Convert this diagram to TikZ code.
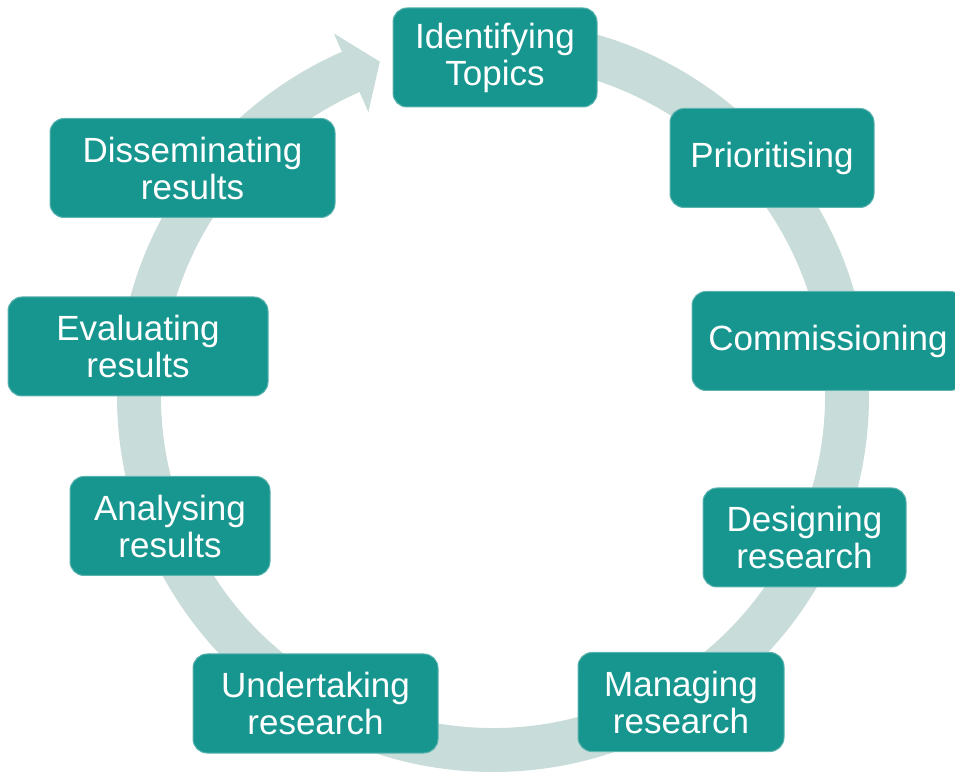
\documentclass[tikz,border=0pt]{standalone}
\usepackage{fontspec}
\setmainfont{Liberation Sans}
\usepackage{xcolor}
\usepackage{tikz}
\definecolor{CycTeal}{HTML}{17968F}
\definecolor{CycEdge}{HTML}{5BB3AE}
\definecolor{CycRing}{HTML}{C8DCDA}

\begin{document}
\begin{tikzpicture}[x=1pt,y=1pt,
  stage/.style={fill=CycTeal,draw=CycEdge,line width=1pt,rounded corners=14pt,
    text=white,align=center,minimum height=99pt,inner sep=0pt,
    font=\fontsize{35}{37}\selectfont}]
\path[use as bounding box] (0,0) rectangle (955,776);
\begin{scope}[shift={(493,380)}]
\fill[CycRing] (90:376) arc[start angle=90,end angle=-246.3,radius=376]
  -- (-246.3:396) -- (-251.3:353) -- (-246.3:310) -- (-246.3:332)
  arc[start angle=-246.3,end angle=90,radius=332] -- cycle;
\end{scope}
\node[stage,minimum width=204pt] (topics) at (495,718.5) {Identifying\\Topics};
\node[stage,minimum width=204pt] (prio) at (772,618) {Prioritising};
\node[stage,minimum width=272pt] (comm) at (828,435) {Commissioning};
\node[stage,minimum width=203pt] (design) at (804.5,238.5) {Designing\\research};
\node[stage,minimum width=206pt] (manage) at (681,74) {Managing\\research};
\node[stage,minimum width=245pt] (undertake) at (315.5,72.5) {Undertaking\\research};
\node[stage,minimum width=200pt] (analyse) at (170,250) {Analysing\\results};
\node[stage,minimum width=260pt] (evaluate) at (138,429.5) {Evaluating\\results};
\node[stage,minimum width=285pt] (dissem) at (192.5,608) {Disseminating\\results};
\end{tikzpicture}
\end{document}
